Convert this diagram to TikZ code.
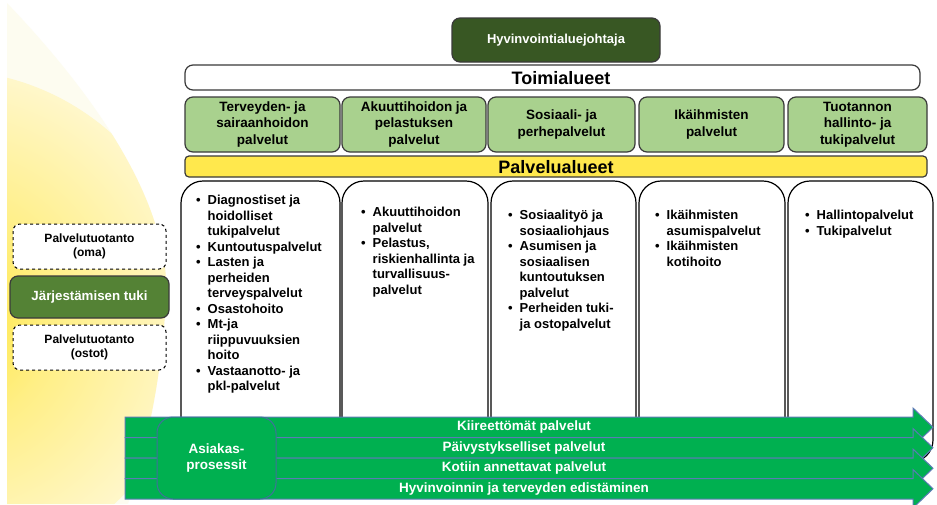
\documentclass[tikz,border=0pt]{standalone}
\usepackage{fontspec}
\setmainfont{Liberation Sans}
\definecolor{darkgreen}{HTML}{385723}
\definecolor{midgreen}{HTML}{548235}
\definecolor{lightgreen}{HTML}{A9D18E}
\definecolor{bandyellow}{HTML}{FFE84D}
\definecolor{flowgreen}{HTML}{00B050}
\definecolor{flowedge}{HTML}{5B7BB5}
\definecolor{procedge}{HTML}{41719C}
\definecolor{boxedge}{HTML}{3A3A3A}
\definecolor{glowA}{HTML}{FFE63C}
\definecolor{glowB}{HTML}{FFEF86}
\definecolor{glowC}{HTML}{FFF8D4}
\definecolor{glowD}{HTML}{FDFCF0}
\pgfdeclareradialshading{glow}{\pgfpoint{0bp}{0bp}}{color(0bp)=(glowA); color(11bp)=(glowB); color(27bp)=(glowC); color(50bp)=(glowD)}

\tikzset{
  outlined/.style={draw=boxedge, line width=1.2pt, rounded corners=8pt},
  chiefbox/.style={outlined, fill=darkgreen, text=white, minimum width=208pt, minimum height=44pt,
    font=\bfseries\fontsize{13}{15}\selectfont},
  headerbox/.style={outlined, fill=white, minimum height=25pt},
  areabox/.style={outlined, fill=lightgreen, minimum height=55pt, align=center,
    font=\bfseries\fontsize{13.5}{16.7}\selectfont},
  bandbox/.style={outlined, rounded corners=4pt, fill=bandyellow, minimum height=21pt},
  bigtext/.style={font=\bfseries\fontsize{18}{20}\selectfont, inner sep=0pt},
  column/.style={draw=black, line width=1.2pt, fill=white, rounded corners=22pt},
  listtext/.style={anchor=north west, inner sep=0pt, align=left,
    font=\bfseries\fontsize{13}{15.5}\selectfont},
  sidebox/.style={draw=black, line width=1pt, dashed, rounded corners=7pt, fill=white,
    minimum width=153pt, minimum height=45pt, align=center,
    font=\bfseries\fontsize{12}{13.5}\selectfont},
  supportbox/.style={outlined, fill=midgreen, text=white, minimum width=159pt, minimum height=42pt,
    font=\bfseries\fontsize{13.3}{15}\selectfont},
  flowarrow/.style={fill=flowgreen, draw=flowedge, line width=1pt, line join=miter},
  flowtext/.style={text=white, inner sep=0pt, font=\bfseries\fontsize{13.5}{15}\selectfont},
  procbox/.style={fill=flowgreen, draw=procedge, line width=1pt, rounded corners=16pt,
    minimum width=119pt, minimum height=82pt, text=white, align=center,
    font=\bfseries\fontsize{13.5}{17}\selectfont}
}
\newcommand{\bul}{\makebox[11.5pt][l]{\textbullet}}
\newcommand{\ind}{\hspace*{11.5pt}}

\begin{document}
\begin{tikzpicture}[x=1pt,y=-1pt]
\useasboundingbox (0,0) rectangle (937,504);
\fill[white] (0,0) rectangle (937,504);

% soft yellow leaf on the left
\begin{scope}
  \clip (7,3) .. controls (95,95) and (172,205) .. (166,300)
        .. controls (160,400) and (140,465) .. (128,504) -- (7,504) -- cycle;
  \fill[glowD] (0,0) rectangle (200,504);
  \shade[shading=glow] (-55,320) circle (250pt);
\end{scope}

% management
\node[chiefbox] (chief) at (556,40) {Hyvinvointialuejohtaja};
\node[headerbox, minimum width=735pt] (toimi) at (552.5,77.5) {};
\node[bigtext] (toimitxt) at (561,78) {Toimialueet};

% service areas
\node[areabox, minimum width=155pt] (area1) at (262.5,124.5) {Terveyden- ja\\sairaanhoidon\\palvelut};
\node[areabox, minimum width=144pt] (area2) at (414,124.5) {Akuuttihoidon ja\\pelastuksen\\palvelut};
\node[areabox, minimum width=147pt] (area3) at (561.5,124.5) {Sosiaali- ja\\perhepalvelut};
\node[areabox, minimum width=145pt] (area4) at (711.5,124.5) {Ikäihmisten\\palvelut};
\node[areabox, minimum width=139pt] (area5) at (857.5,124.5) {Tuotannon\\hallinto- ja\\tukipalvelut};

\node[bandbox, minimum width=742pt] (palv) at (556,166.5) {};
\node[bigtext] (palvtxt) at (556,167) {Palvelualueet};

% service columns
\node[column, minimum width=159pt, minimum height=281pt] (col1) at (260.5,321.5) {};
\node[column, minimum width=146pt, minimum height=281pt] (col2) at (415,321.5) {};
\node[column, minimum width=145pt, minimum height=281pt] (col3) at (563.5,321.5) {};
\node[column, minimum width=146pt, minimum height=281pt] (col4) at (712,321.5) {};
\node[column, minimum width=145pt, minimum height=281pt] (col5) at (860.5,321.5) {};

\node[listtext] (list1) at (196,195) {%
\bul Diagnostiset ja\\ \ind hoidolliset\\ \ind tukipalvelut\\
\bul Kuntoutuspalvelut\\
\bul Lasten ja\\ \ind perheiden\\ \ind terveyspalvelut\\
\bul Osastohoito\\
\bul Mt-ja\\ \ind riippuvuuksien\\ \ind hoito\\
\bul Vastaanotto- ja\\ \ind pkl-palvelut};

\node[listtext] (list2) at (361,207) {%
\bul Akuuttihoidon\\ \ind palvelut\\
\bul Pelastus,\\ \ind riskienhallinta ja\\ \ind turvallisuus-\\ \ind palvelut};

\node[listtext] (list3) at (508,210) {%
\bul Sosiaalityö ja\\ \ind sosiaaliohjaus\\
\bul Asumisen ja\\ \ind sosiaalisen\\ \ind kuntoutuksen\\ \ind palvelut\\
\bul Perheiden tuki-\\ \ind ja ostopalvelut};

\node[listtext] (list4) at (655,210) {%
\bul Ikäihmisten\\ \ind asumispalvelut\\
\bul Ikäihmisten\\ \ind kotihoito};

\node[listtext] (list5) at (805,210) {%
\bul Hallintopalvelut\\
\bul Tukipalvelut};

% organising support on the left
\node[sidebox] (own) at (89.5,246.5) {Palvelutuotanto\\(oma)};
\node[supportbox] (support) at (89.5,297) {Järjestämisen tuki};
\node[sidebox] (bought) at (89.5,347.5) {Palvelutuotanto\\(ostot)};

% customer process arrows
\foreach \top/\name/\txt in {417/flowA/Kiireettömät palvelut,
                             437.5/flowB/Päivystykselliset palvelut,
                             458/flowC/Kotiin annettavat palvelut,
                             478.5/flowD/Hyvinvoinnin ja terveyden edistäminen}{
  \draw[flowarrow] (125,\top) -- (913,\top) -- (913,\top-9) -- (933,\top+10.25)
    -- (913,\top+29.5) -- (913,\top+20.5) -- (125,\top+20.5) -- cycle;
  \node[flowtext] (\name) at (524,\top+10.5) {\txt};
}

\node[procbox] (proc) at (216.5,458) {Asiakas-\\prosessit};
\end{tikzpicture}
\end{document}
